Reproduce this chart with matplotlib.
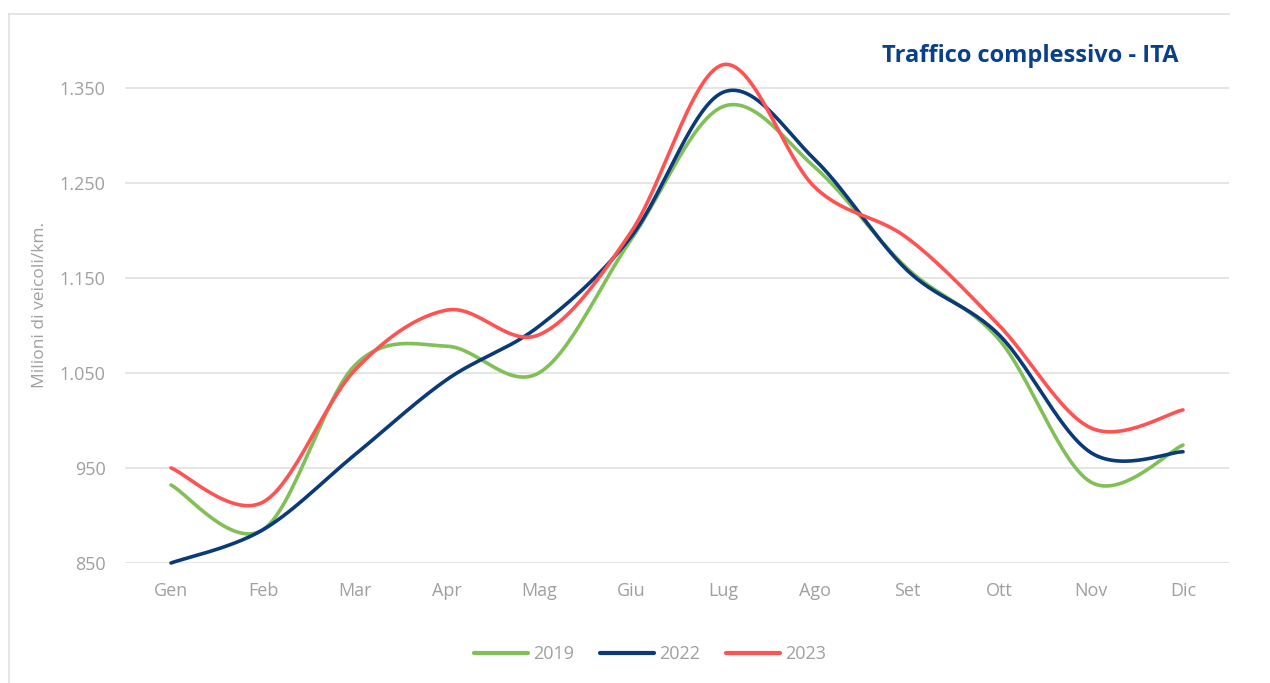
import matplotlib
matplotlib.use("Agg")
import matplotlib.pyplot as plt
from matplotlib.lines import Line2D
import numpy as np

# Data (milioni di veicoli/km)
months = ["Gen", "Feb", "Mar", "Apr", "Mag", "Giu", "Lug", "Ago", "Set", "Ott", "Nov", "Dic"]
v2019 = [932, 885, 1058, 1078, 1050, 1190, 1330, 1266, 1160, 1085, 935, 974]
v2022 = [850, 885, 964, 1043, 1099, 1193, 1345, 1274, 1158, 1090, 966, 967]
v2023 = [950, 914, 1053, 1116, 1090, 1198, 1374, 1245, 1192, 1100, 992, 1011]

series = [("2019", v2019, "#80C056"), ("2022", v2022, "#0A3A7A"), ("2023", v2023, "#FF5252")]

tick_color = "#A0A0A0"
font = "Open Sans"
plt.rcParams['font.family'] = [font, 'DejaVu Sans']


def smooth(xs, ys, n=30):
    # Excel-like smoothed line: cubic Bezier with Catmull-Rom control points
    p = np.column_stack([xs, ys]).astype(float)
    p = np.vstack([p[0], p, p[-1]])
    out = []
    for i in range(1, len(p) - 2):
        p0, p1, p2, p3 = p[i - 1], p[i], p[i + 1], p[i + 2]
        c1 = p1 + (p2 - p0) / 6
        c2 = p2 - (p3 - p1) / 6
        t = np.linspace(0, 1, n)[:, None]
        seg = (1 - t) ** 3 * p1 + 3 * (1 - t) ** 2 * t * c1 + 3 * (1 - t) * t ** 2 * c2 + t ** 3 * p2
        out.append(seg if i == 1 else seg[1:])
    out = np.vstack(out)
    return out[:, 0], out[:, 1]


fig = plt.figure(figsize=(12.7, 6.83), dpi=100)
ax = fig.add_axes([125 / 1270, 1 - 563 / 683, (1229 - 125) / 1270, (563 - 40) / 683])

x = np.arange(len(months))
for name, vals, col in series:
    sx, sy = smooth(x, vals)
    ax.plot(sx, sy, color=col, lw=2.6, solid_capstyle="round", label=name, clip_on=False, zorder=3)

ax.set_xlim(-0.5, len(months) - 0.5)
ax.set_ylim(850, 1400)
yt = [850, 950, 1050, 1150, 1250, 1350]
ax.set_yticks(yt)
ax.set_yticklabels([f"{v:,}".replace(",", ".") for v in yt])
ax.set_xticks(x)
ax.set_xticklabels(months)
ax.grid(axis="y", color="#E3E3E3", lw=1.3)
ax.set_axisbelow(True)
for s in ax.spines.values():
    s.set_visible(False)
ax.tick_params(axis="both", length=0, colors=tick_color, labelsize=13)
ax.tick_params(axis="y", pad=14)
ax.tick_params(axis="x", pad=14)

ax.set_ylabel("Milioni di veicoli/km.", color=tick_color, fontsize=12.5)
ax.yaxis.set_label_coords((40 - 125) / 1104, (563 - 305) / 523)
ax.yaxis.label.set_va("center")

fig.text(1178 / 1270, 1 - 56 / 683, "Traffico complessivo - ITA", ha="right", va="center",
         color="#0A3F8C", fontsize=17, fontweight="bold")

handles = [Line2D([0], [0], color=c, lw=3, solid_capstyle="round") for _, _, c in series]
fig.legend(handles, [s[0] for s in series], loc="center", bbox_to_anchor=(650 / 1270, 1 - 654 / 683),
           ncol=3, frameon=False, fontsize=13, handlelength=3.0, columnspacing=1.4,
           handletextpad=0.3, labelcolor=tick_color)

# chart frame
fig.add_artist(Line2D([9 / 1270, 9 / 1270], [0, 1 - 14 / 683], color="#E0E0E0", lw=1.2,
                      transform=fig.transFigure))
fig.add_artist(Line2D([9 / 1270, 1229 / 1270], [1 - 14 / 683, 1 - 14 / 683], color="#E0E0E0", lw=1.2,
                      transform=fig.transFigure))

fig.savefig("out.png", dpi=100)
